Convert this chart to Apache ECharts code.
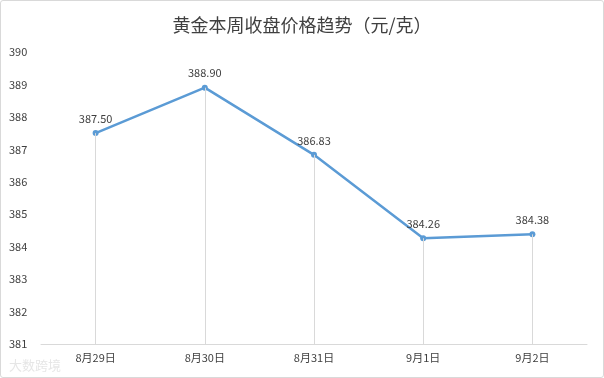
<!DOCTYPE html>
<html><head><meta charset="utf-8">
<script src="https://cdn.jsdelivr.net/npm/echarts@6/dist/echarts.min.js"></script>
<style>html,body{margin:0;padding:0;background:#fff;}
#c{width:602px;height:376px;border:1px solid #d9d9d9;border-radius:3px;}</style>
</head><body><div id="c"></div>
<script>
const titleText = '黄金本周收盘价格趋势（元/克）';
const categories = ['8月29日','8月30日','8月31日','9月1日','9月2日'];
const prices = [387.50, 388.90, 386.83, 384.26, 384.38];
const yMin = 381, yMax = 390, yStep = 1;

const chart = echarts.init(document.getElementById('c'));
chart.setOption({
  animation:false,
  title:{text:titleText,left:'center',top:10,textStyle:{fontFamily:'Noto Sans CJK SC',fontSize:18,fontWeight:'normal',color:'#404040'}},
  grid:{left:40,right:16,top:51,bottom:33},
  xAxis:{type:'category',data:categories,boundaryGap:true,
    axisLine:{lineStyle:{color:'#d9d9d9'}},axisTick:{show:false},
    axisLabel:{color:'#404040',fontSize:11,fontFamily:'Noto Sans CJK SC',margin:8}},
  yAxis:{type:'value',min:yMin,max:yMax,interval:yStep,
    axisLine:{show:false},axisTick:{show:false},splitLine:{show:false},
    axisLabel:{color:'#404040',fontSize:11,fontFamily:'Noto Sans CJK SC',align:'left',margin:32}},
  series:[{type:'line',data:prices,color:'#5b9bd5',
    lineStyle:{width:2.5,color:'#5b9bd5'},symbol:'circle',symbolSize:6,
    itemStyle:{color:'#5b9bd5'},
    label:{show:true,position:'top',distance:6,color:'#404040',fontSize:11,fontFamily:'Noto Sans CJK SC',formatter:p=>p.value.toFixed(2)},
    markLine:{silent:true,symbol:'none',label:{show:false},lineStyle:{color:'#d9d9d9',width:1,type:'solid'},
      data:prices.map((v,i)=>[{coord:[i,v]},{coord:[i,yMin]}])}
  }],
  graphic:[{type:'text',left:8,top:358,style:{text:'大数跨境',fill:'#e6e6e6',font:'13px "Noto Sans CJK SC"'}}]
});
</script></body></html>
